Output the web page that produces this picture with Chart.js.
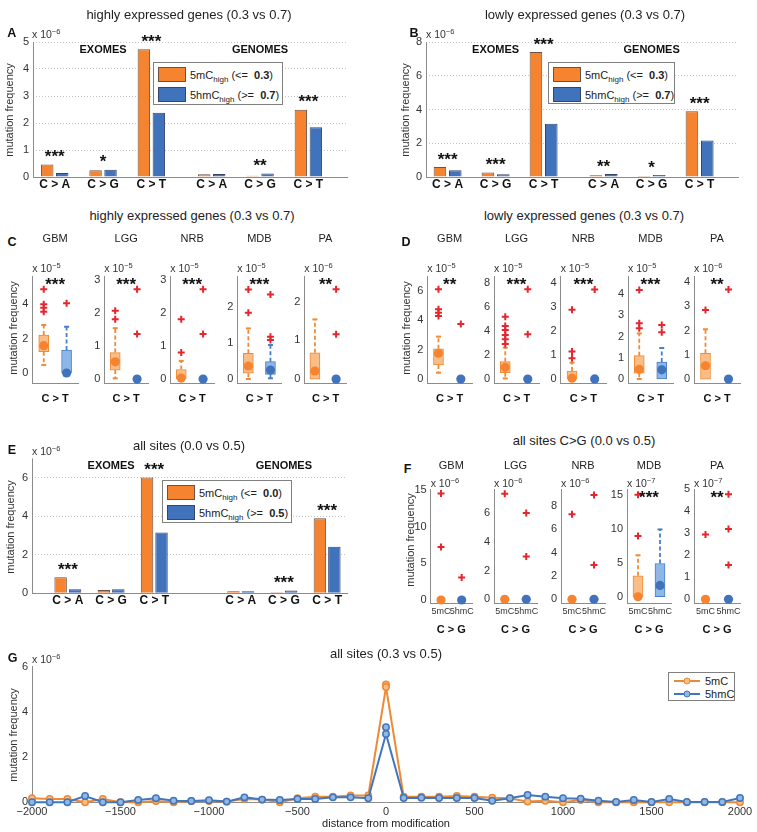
<!DOCTYPE html>
<html>
<head>
<meta charset="utf-8">
<title>mutation frequency: 5mC vs 5hmC</title>
<script src="https://cdn.jsdelivr.net/npm/chart.js@4.4.1/dist/chart.umd.min.js"></script>
<style>
  html, body { margin:0; padding:0; background:#fff; }
  #fig { position:relative; width:757px; height:832px; overflow:hidden; background:#fff;
         font-family:"Liberation Sans", Arial, Helvetica, sans-serif; color:#222; }
  #fig canvas { position:absolute; }
  .t, .tl, .yl { position:absolute; white-space:nowrap; line-height:1; }
  .t { transform:translate(-50%,-50%); }
  .tl { transform:translate(0,-50%); }
  .yl { transform:translate(-50%,-50%) rotate(-90deg); font-size:11px; color:#333; }
  .ttl { font-size:13px; color:#222; }
  .let { font-size:12.5px; font-weight:bold; color:#111; }
  .exp { font-size:10.5px; color:#333; }
  .exp sup { font-size:7.5px; vertical-align:4px; line-height:0; }
  .sub { font-size:11px; color:#222; }
  .xl { font-size:11px; font-weight:bold; color:#111; }
  .leg { position:absolute; background:#fff; border:1px solid #808080; box-sizing:border-box; }
  .sw { position:absolute; width:28px; height:15px; border:1px solid #555; box-sizing:border-box; }
  .lt { position:absolute; white-space:nowrap; line-height:1; transform:translate(0,-50%); font-size:11px; color:#222; }
  .lt sub { font-size:8px; vertical-align:-3px; line-height:0; }
  .gl { position:absolute; height:2px; width:26px; }
  .gm { position:absolute; width:7px; height:7px; border-radius:50%; box-sizing:border-box; border:1.5px solid; transform:translate(-50%,-50%); }
</style>
</head>
<body>
<div id="fig"></div>
<script>
// ======================= DATA =======================
// Panels A, B, E : grouped bars, mutation frequency (x 10^-6)
const barCategories = ['C > A', 'C > G', 'C > T', 'C > A', 'C > G', 'C > T'];
const cohortLabels = ['EXOMES', 'GENOMES'];

const A_5mC  = [0.46, 0.25, 4.73, 0.10, 0.05, 2.49];
const A_5hmC = [0.15, 0.27, 2.38, 0.11, 0.13, 1.84];
const A_stars = ['***', '*', '***', '', '**', '***'];
const A_yTicks = [0, 1, 2, 3, 4, 5];
const A_thresholds = ['0.3', '0.7'];

const B_5mC  = [0.59, 0.26, 7.41, 0.10, 0.06, 3.89];
const B_5hmC = [0.40, 0.16, 3.16, 0.18, 0.12, 2.17];
const B_stars = ['***', '***', '***', '**', '*', '***'];
const B_yTicks = [0, 2, 4, 6, 8];
const B_thresholds = ['0.3', '0.7'];

const E_5mC  = [0.83, 0.17, 6.01, 0.10, 0.05, 3.89];
const E_5hmC = [0.21, 0.21, 3.16, 0.10, 0.14, 2.42];
const E_stars = ['***', '', '***', '', '***', '***'];
const E_yTicks = [0, 2, 4, 6];
const E_thresholds = ['0.0', '0.5'];

// Panels C, D, F : box plots per tumour type
const tumours = ['GBM', 'LGG', 'NRB', 'MDB', 'PA'];
const groupTickLabels = ['5mC', '5hmC'];

// C : highly expressed genes, C>T
const C_exp   = [-5, -5, -5, -5, -6];
const C_yMin  = [-0.58, -0.12, -0.12, -0.11, -0.10];
const C_yMax  = [5.64, 3.12, 3.12, 2.85, 2.66];
const C_yTicks = [[0, 2, 4], [0, 1, 2, 3], [0, 1, 2, 3], [0, 1, 2], [0, 1, 2]];
const C_stars = ['***', '***', '***', '***', '**'];
const C_5mC_q1  = [1.24, 0.27, 0.00, 0.16, 0.00];
const C_5mC_q3  = [2.21, 0.80, 0.29, 0.71, 0.68];
const C_5mC_med = [1.59, 0.52, 0.03, 0.36, 0.21];
const C_5mC_lo  = [0.47, 0.02, 0.00, 0.00, 0.00];
const C_5mC_hi  = [2.79, 1.54, 0.55, 1.40, 1.54];
const C_5mC_out = [[4.87, 4.00, 3.80, 3.56], [2.07, 1.81], [1.81, 0.80], [2.48, 1.83], []];
const C_5hmC_q1  = [0.00, null, null, 0.13, null];
const C_5hmC_q3  = [1.34, null, null, 0.48, null];
const C_5hmC_med = [0.00, 0.00, 0.00, 0.25, 0.00];
const C_5hmC_lo  = [0.00, null, null, 0.02, null];
const C_5hmC_hi  = [2.69, null, null, 0.94, null];
const C_5hmC_out = [[4.05], [2.72, 1.36], [2.72, 1.36], [2.34, 1.17, 1.08], [2.32, 1.16]];

// D : lowly expressed genes, C>T
const D_exp   = [-5, -5, -5, -5, -6];
const D_yMin  = [-0.27, -0.33, -0.17, -0.19, -0.16];
const D_yMax  = [7.0, 8.61, 4.31, 4.86, 4.24];
const D_yTicks = [[0, 2, 4, 6], [0, 2, 4, 6, 8], [0, 1, 2, 3, 4], [0, 1, 2, 3, 4], [0, 1, 2, 3, 4]];
const D_stars = ['**', '***', '***', '***', '**'];
const D_5mC_q1  = [0.95, 0.53, 0.00, 0.27, 0.00];
const D_5mC_q3  = [2.05, 1.45, 0.33, 1.10, 1.06];
const D_5mC_med = [1.75, 0.98, 0.03, 0.46, 0.55];
const D_5mC_lo  = [0.43, 0.05, 0.00, 0.00, 0.00];
const D_5mC_hi  = [2.88, 2.62, 0.68, 2.15, 2.05];
const D_5mC_out = [[6.10, 4.74, 4.51, 4.29], [5.21, 4.43, 4.10, 3.68, 3.32, 2.93], [2.90, 1.15, 0.87], [4.20, 2.63, 2.39], [2.84]];
const D_5hmC_q1  = [null, null, null, 0.00, null];
const D_5hmC_q3  = [null, null, null, 0.80, null];
const D_5hmC_med = [0.00, 0.00, 0.00, 0.43, 0.00];
const D_5hmC_lo  = [null, null, null, 0.00, null];
const D_5hmC_hi  = [null, null, null, 1.46, null];
const D_5hmC_out = [[3.74], [7.50, 3.74], [3.75], [2.55, 2.20], [3.69]];

// F : all sites C>G
const F_exp   = [-6, -6, -6, -7, -7];
const F_yMin  = [-0.41, -0.26, -0.32, -0.92, -0.17];
const F_yMax  = [15.13, 7.64, 9.43, 15.8, 5.0];
const F_yTicks = [[0, 5, 10, 15], [0, 2, 4, 6], [0, 2, 4, 6, 8], [0, 5, 10, 15], [0, 1, 2, 3, 4, 5]];
const F_stars = ['', '', '', '***', '**'];
const F_5mC_q1  = [null, null, null, 0.00, null];
const F_5mC_q3  = [null, null, null, 3.07, null];
const F_5mC_med = [0.00, 0.00, 0.00, 0.00, 0.00];
const F_5mC_lo  = [null, null, null, 0.00, null];
const F_5mC_hi  = [null, null, null, 6.10, null];
const F_5mC_out = [[14.54, 7.25], [7.33], [7.29], [15.0, 8.93], [2.95]];
const F_5hmC_q1  = [null, null, null, 0.00, null];
const F_5hmC_q3  = [null, null, null, 4.89, null];
const F_5hmC_med = [0.00, 0.00, 0.00, 1.67, 0.00];
const F_5hmC_lo  = [null, null, null, 0.00, null];
const F_5hmC_hi  = [null, null, null, 9.90, null];
const F_5hmC_out = [[3.07], [6.00, 2.97], [8.94, 2.94], [], [4.77, 3.20, 1.56]];

// G : frequency vs distance from modification (x 10^-6)
const G_dist = [-2000, -1900, -1800, -1700, -1600, -1500, -1400, -1300, -1200, -1100,
                -1000, -900, -800, -700, -600, -500, -400, -300, -200, -100, 0,
                100, 200, 300, 400, 500, 600, 700, 800, 900, 1000,
                1100, 1200, 1300, 1400, 1500, 1600, 1700, 1800, 1900, 2000];
const G_5mC = [0.18, 0.15, 0.15, 0.00, 0.15, 0.00, 0.00, 0.06, 0.00, 0.06,
               0.06, 0.03, 0.15, 0.12, 0.00, 0.18, 0.25, 0.25, 0.30, 0.30, 5.10,
               0.25, 0.25, 0.25, 0.28, 0.25, 0.20, 0.18, 0.03, 0.07, 0.00,
               0.10, 0.00, 0.00, 0.00, 0.00, 0.00, 0.00, 0.00, 0.00, 0.00];
const G_5hmC = [0.00, 0.00, 0.00, 0.28, 0.00, 0.00, 0.10, 0.18, 0.07, 0.06,
                0.09, 0.03, 0.22, 0.12, 0.10, 0.15, 0.15, 0.22, 0.22, 0.18, 3.02,
                0.19, 0.20, 0.19, 0.19, 0.19, 0.07, 0.18, 0.32, 0.25, 0.18,
                0.16, 0.07, 0.01, 0.10, 0.01, 0.15, 0.01, 0.01, 0.01, 0.19];
const G_peakDist = [0];
const G_5mC_peak = [5.22];
const G_5hmC_peak = [3.32];
const G_xTicks = [-2000, -1500, -1000, -500, 0, 500, 1000, 1500, 2000];
const G_yTicks = [0, 2, 4, 6];
const G_series = ['5mC', '5hmC'];

const panelTitles = ['highly expressed genes (0.3 vs 0.7)', 'lowly expressed genes (0.3 vs 0.7)',
                     'all sites (0.0 vs 0.5)', 'all sites C>G (0.0 vs 0.5)', 'all sites (0.3 vs 0.5)'];
const yTitle = 'mutation frequency';
const gXTitle = 'distance from modification';

// ======================= STYLE =======================
const FONT = '"Liberation Sans", Arial, Helvetica, sans-serif';
const COL = {
  or: '#F5832F', orEdge: '#6b5244', bl: '#4173BD', blEdge: '#34476a',
  orLight: '#F9BD88', orLine: '#F08A34', blLight: '#8DB7E6', blLine: '#4A7EC4',
  red: '#E4262F', axis: '#8c8c8c', grid: '#c4c4c4',
  gOr: '#EE8A35', gOrFill: '#F8BC86', gBl: '#3F76BD', gBlFill: '#94B7E2'
};
Chart.defaults.font.family = FONT;
Chart.defaults.color = '#333';
Chart.defaults.animation = false;

const fig = document.getElementById('fig');
const esc = s => s.replace(/&/g, '&amp;').replace(/</g, '&lt;').replace(/>/g, '&gt;');

function txt(html, x, y, cls) {
  const d = document.createElement('div');
  d.className = cls;
  d.innerHTML = html;
  d.style.left = x + 'px';
  d.style.top = y + 'px';
  fig.appendChild(d);
  return d;
}
const tickSet = arr => s => { s.ticks = arr.map(v => ({ value: v })); };

function chartAt(rect, yW, xH, m, cfg) {
  const cl = Math.floor(rect.L - yW - m.l), ct = Math.floor(rect.T - m.t);
  const cr = Math.ceil(rect.R + m.r), cb = Math.ceil(rect.B + xH + m.b);
  const cv = document.createElement('canvas');
  cv.width = cr - cl; cv.height = cb - ct;
  cv.style.left = cl + 'px'; cv.style.top = ct + 'px';
  cv.style.width = (cr - cl) + 'px'; cv.style.height = (cb - ct) + 'px';
  fig.appendChild(cv);
  const o = cfg.options;
  o.responsive = false; o.maintainAspectRatio = false; o.animation = false;
  o.devicePixelRatio = 1; o.events = [];
  o.layout = { padding: { left: rect.L - yW - cl, top: rect.T - ct, right: cr - rect.R, bottom: cb - rect.B - xH } };
  o.plugins = { legend: { display: false }, tooltip: { enabled: false }, title: { display: false } };
  const zero = s => { s.paddingLeft = 0; s.paddingRight = 0; s.paddingTop = 0; s.paddingBottom = 0; };
  o.scales.x.afterFit = s => { s.height = xH; zero(s); };
  o.scales.y.afterFit = s => { s.width = yW; zero(s); };
  return new Chart(cv, cfg);
}

// solid left axis line (grid lines of the bar panels are dotted)
const solidYAxis = {
  id: 'solidYAxis',
  beforeDatasetsDraw(chart) {
    const { ctx, chartArea: a } = chart;
    const x = Math.round(a.left) + 0.5;
    ctx.save();
    ctx.strokeStyle = COL.axis;
    ctx.lineWidth = 1;
    ctx.setLineDash([]);
    ctx.beginPath();
    ctx.moveTo(x, a.top);
    ctx.lineTo(x, a.bottom);
    ctx.stroke();
    ctx.restore();
  }
};

// ---------- grouped bar panels (A, B, E) ----------
function barPanel(rect, mC, hmC, stars, yTicks, yMax, pos, xMin, xMax, cp, bp) {
  const annot = {
    id: 'annot',
    afterDatasetsDraw(chart) {
      const { ctx, chartArea } = chart;
      const x = chart.scales.x, y = chart.scales.y;
      ctx.save();
      ctx.fillStyle = '#111';
      ctx.textAlign = 'center';
      ctx.textBaseline = 'alphabetic';
      ctx.font = 'bold 17px ' + FONT;
      stars.forEach((s, i) => {
        if (!s) return;
        const top = y.getPixelForValue(Math.max(mC[i], hmC[i]));
        ctx.fillText(s, x.getPixelForValue(pos[i]), top - 12 + 9.7);
      });
      ctx.font = 'bold 11px ' + FONT;
      ctx.fillText(cohortLabels[0], x.getPixelForValue(pos[1]), chartArea.top + 11);
      ctx.fillText(cohortLabels[1], x.getPixelForValue(pos[4]), chartArea.top + 11);
      ctx.restore();
    }
  };
  return chartAt(rect, 30, 20, { l: 8, r: 8, t: 26, b: 6 }, {
    type: 'bar',
    data: { datasets: [
      { data: pos.map((x, i) => ({ x, y: mC[i] })), backgroundColor: COL.or, borderColor: COL.orEdge,
        borderWidth: 1, categoryPercentage: cp, barPercentage: bp },
      { data: pos.map((x, i) => ({ x, y: hmC[i] })), backgroundColor: COL.bl, borderColor: COL.blEdge,
        borderWidth: 1, categoryPercentage: cp, barPercentage: bp }
    ] },
    options: {
      scales: {
        x: { type: 'linear', min: xMin, max: xMax, bounds: 'data', offset: false, afterBuildTicks: tickSet(pos),
             grid: { display: false, drawTicks: false }, border: { display: true, color: COL.axis },
             ticks: { autoSkip: false, maxRotation: 0, minRotation: 0, padding: 0, color: '#111',
                      font: { size: 12, weight: 'bold' }, callback: (v, i) => barCategories[i] } },
        y: { type: 'linear', min: 0, max: yMax, bounds: 'data', afterBuildTicks: tickSet(yTicks),
             grid: { display: true, drawTicks: false, color: COL.grid, lineWidth: 1 },
             border: { display: false, color: COL.axis, dash: [1, 2] },
             ticks: { padding: 4, color: '#333', font: { size: 11 }, callback: v => String(v) } }
      }
    },
    plugins: [solidYAxis, annot]
  });
}

// ---------- box plot panels (C, D, F) ----------
function boxPanel(rect, yMin, yMax, yTicks, star, m, h, xLabels) {
  const S = [{ s: m, x: 1 }, { s: h, x: 2 }];
  const boxes = [], caps = [], meds = [], outs = [], whisk = [[], []];
  S.forEach((o, k) => {
    const s = o.s;
    if (s.q1 != null) {
      boxes.push({ x: o.x, y: [s.q1, s.q3] });
      if (s.hi > s.q3) { whisk[k].push({ x: o.x, y: s.q3 }, { x: o.x, y: s.hi }); caps.push({ x: o.x, y: s.hi }); }
      if (s.lo < s.q1) { whisk[k].push({ x: o.x, y: null }, { x: o.x, y: s.q1 }, { x: o.x, y: s.lo }); caps.push({ x: o.x, y: s.lo }); }
    }
    meds.push({ x: o.x, y: s.med });
    s.out.forEach(v => outs.push({ x: o.x, y: v }));
  });
  const pick = (a, b) => c => (c.raw && c.raw.x === 2) ? b : a;
  const starPlug = {
    id: 'stars',
    afterDatasetsDraw(chart) {
      if (!star) return;
      const { ctx, chartArea } = chart;
      ctx.save();
      ctx.fillStyle = '#111';
      ctx.textAlign = 'center';
      ctx.textBaseline = 'alphabetic';
      ctx.font = 'bold 17px ' + FONT;
      ctx.fillText(star, (chartArea.left + chartArea.right) / 2, chartArea.top + 4 + 9.7);
      ctx.restore();
    }
  };
  const xH = xLabels ? 14 : 0;
  return chartAt(rect, 28, xH, { l: 6, r: 6, t: 8, b: 6 }, {
    type: 'bar',
    data: { datasets: [
      { type: 'line', order: 0, data: outs, showLine: false, pointStyle: 'cross', pointRadius: 3.5,
        pointBorderWidth: 2, pointBorderColor: COL.red, pointBackgroundColor: COL.red, clip: false },
      { type: 'line', order: 1, data: meds, showLine: false, pointStyle: 'circle', pointRadius: 4.6,
        pointBorderWidth: 0, pointBackgroundColor: pick(COL.or, COL.bl), pointBorderColor: pick(COL.or, COL.bl), clip: false },
      { type: 'line', order: 2, data: caps, showLine: false, pointStyle: 'line', pointRadius: 2.5,
        pointBorderWidth: 2, pointBorderColor: pick(COL.orLine, COL.blLine), clip: false },
      { type: 'line', order: 3, data: whisk[0], borderColor: COL.orLine, borderWidth: 1.8,
        borderDash: [4, 2.5], pointRadius: 0, spanGaps: false, clip: false },
      { type: 'line', order: 3, data: whisk[1], borderColor: COL.blLine, borderWidth: 1.8,
        borderDash: [4, 2.5], pointRadius: 0, spanGaps: false, clip: false },
      { type: 'bar', order: 4, data: boxes, barThickness: 10, borderWidth: 1, borderSkipped: false,
        backgroundColor: pick(COL.orLight, COL.blLight), borderColor: pick(COL.orLine, COL.blLine) }
    ] },
    options: {
      scales: {
        x: { type: 'linear', min: 0.5, max: 2.5, bounds: 'data', offset: false, afterBuildTicks: tickSet([1, 2]),
             grid: { display: false, drawTicks: false }, border: { display: true, color: COL.axis },
             ticks: { display: !!xLabels, autoSkip: false, maxRotation: 0, minRotation: 0, padding: 3,
                      color: '#333', font: { size: 9 }, callback: (v, i) => xLabels ? xLabels[i] : '' } },
        y: { type: 'linear', min: yMin, max: yMax, bounds: 'data', afterBuildTicks: tickSet(yTicks),
             grid: { display: false, drawTicks: false }, border: { display: true, color: COL.axis },
             ticks: { padding: 4, color: '#333', font: { size: 11 }, callback: v => String(v) } }
      }
    },
    plugins: [starPlug]
  });
}

// ======================= BUILD =======================
const posAB = [1, 2, 3, 4.25, 5.25, 6.25];
const posE = [1, 2, 3, 5, 6, 7];
barPanel({ L: 33, R: 347, T: 42, B: 177 }, A_5mC, A_5hmC, A_stars, A_yTicks, 5, posAB, 0.55, 7.05, 0.62, 0.83);
barPanel({ L: 426, R: 738, T: 42, B: 177 }, B_5mC, B_5hmC, B_stars, B_yTicks, 8, posAB, 0.55, 7.05, 0.64, 0.82);
barPanel({ L: 32, R: 347, T: 458.4, B: 593.3 }, E_5mC, E_5hmC, E_stars, E_yTicks, 7, posE, 0.17, 7.46, 0.67, 0.86);

const boxPanels = [
  { key: 'C', T: 276, B: 383, xs: [[32.3, 78], [104.3, 148], [170.3, 214], [237.3, 281.5], [304.3, 346.7]],
    exp: C_exp, yMin: C_yMin, yMax: C_yMax, yTicks: C_yTicks, stars: C_stars,
    m: [C_5mC_q1, C_5mC_q3, C_5mC_med, C_5mC_lo, C_5mC_hi, C_5mC_out],
    h: [C_5hmC_q1, C_5hmC_q3, C_5hmC_med, C_5hmC_lo, C_5hmC_hi, C_5hmC_out],
    subY: 238, expY: 268, mutLabel: 'C > T', mutY: 398, xLabels: null },
  { key: 'D', T: 276, B: 383, xs: [[427.3, 472], [494, 539], [560.7, 606], [628, 673], [694, 740]],
    exp: D_exp, yMin: D_yMin, yMax: D_yMax, yTicks: D_yTicks, stars: D_stars,
    m: [D_5mC_q1, D_5mC_q3, D_5mC_med, D_5mC_lo, D_5mC_hi, D_5mC_out],
    h: [D_5hmC_q1, D_5hmC_q3, D_5hmC_med, D_5hmC_lo, D_5hmC_hi, D_5hmC_out],
    subY: 238, expY: 268, mutLabel: 'C > T', mutY: 398, xLabels: null },
  { key: 'F', T: 489.3, B: 603, xs: [[430.7, 472], [494, 537], [561, 605], [627, 671], [694, 740]],
    exp: F_exp, yMin: F_yMin, yMax: F_yMax, yTicks: F_yTicks, stars: F_stars,
    m: [F_5mC_q1, F_5mC_q3, F_5mC_med, F_5mC_lo, F_5mC_hi, F_5mC_out],
    h: [F_5hmC_q1, F_5hmC_q3, F_5hmC_med, F_5hmC_lo, F_5hmC_hi, F_5hmC_out],
    subY: 465, expY: 482.5, mutLabel: 'C > G', mutY: 629, xLabels: groupTickLabels }
];
const unpack = (arrs, i) => ({ q1: arrs[0][i], q3: arrs[1][i], med: arrs[2][i], lo: arrs[3][i], hi: arrs[4][i], out: arrs[5][i] });
boxPanels.forEach(P => {
  tumours.forEach((name, i) => {
    const [L, R] = P.xs[i];
    boxPanel({ L, R, T: P.T, B: P.B }, P.yMin[i], P.yMax[i], P.yTicks[i], P.stars[i],
             unpack(P.m, i), unpack(P.h, i), P.xLabels);
  });
});

// Panel G
const gPts = (xs, ys) => xs.map((x, i) => ({ x, y: ys[i] }));
const gStyle = (c, f) => ({ borderColor: c, borderWidth: 2, pointRadius: 3.2, pointBorderWidth: 1.5,
                            pointBackgroundColor: f, pointBorderColor: c, tension: 0, clip: false });
chartAt({ L: 32, R: 740, T: 666.7, B: 802.3 }, 30, 18, { l: 10, r: 14, t: 8, b: 6 }, {
  type: 'line',
  data: { datasets: [
    Object.assign({ order: 0, data: gPts(G_dist, G_5hmC) }, gStyle(COL.gBl, COL.gBlFill)),
    Object.assign({ order: 0, data: gPts(G_peakDist, G_5hmC_peak), showLine: false }, gStyle(COL.gBl, COL.gBlFill)),
    Object.assign({ order: 1, data: gPts(G_dist, G_5mC) }, gStyle(COL.gOr, COL.gOrFill)),
    Object.assign({ order: 1, data: gPts(G_peakDist, G_5mC_peak), showLine: false }, gStyle(COL.gOr, COL.gOrFill))
  ] },
  options: {
    scales: {
      x: { type: 'linear', min: -2000, max: 2000, bounds: 'data', afterBuildTicks: tickSet(G_xTicks),
           grid: { display: false, drawTicks: false }, border: { display: true, color: COL.axis },
           ticks: { autoSkip: false, maxRotation: 0, minRotation: 0, padding: 3, color: '#333', font: { size: 11 },
                    callback: v => (v < 0 ? '\u2212' : '') + Math.abs(v) } },
      y: { type: 'linear', min: 0, max: 6, bounds: 'data', afterBuildTicks: tickSet(G_yTicks),
           grid: { display: false, drawTicks: false }, border: { display: true, color: COL.axis },
           ticks: { padding: 4, color: '#333', font: { size: 11 }, callback: v => String(v) } }
    }
  }
});

// ======================= TEXT =======================
[[0, 189, 13.5], [1, 585, 13.5], [0, 192, 215], [1, 584, 215], [2, 189, 445], [3, 584, 440], [4, 386, 653]]
  .forEach(([k, x, y]) => txt(esc(panelTitles[k]), x, y, 't ttl'));
[['A', 11.7, 33], ['B', 414, 33], ['C', 12, 242], ['D', 406, 242], ['E', 12, 449.5], ['F', 407.5, 469], ['G', 12.5, 658]]
  .forEach(([s, x, y]) => txt(s, x, y, 't let'));
[[9, 110], [405, 110], [13, 328], [406, 328], [10, 527], [410, 540], [13, 735]]
  .forEach(([x, y]) => txt(yTitle, x, y, 'yl'));
const expHtml = e => 'x 10<sup>\u2212' + Math.abs(e) + '</sup>';
[[32, 34], [426, 34], [32, 450.7], [32, 659]].forEach(([x, y]) => txt(expHtml(-6), x, y, 'tl exp'));
boxPanels.forEach(P => {
  tumours.forEach((name, i) => {
    const [L, R] = P.xs[i];
    const cx = (L + R) / 2;
    txt(name, cx, P.subY, 't sub');
    txt(expHtml(P.exp[i]), L, P.expY, 'tl exp');
    txt(esc(P.mutLabel), cx, P.mutY, 't xl');
  });
});
txt(gXTitle, 386, 823, 't sub');

// legends
function barLegend(x, y, w, h, thr) {
  const b = document.createElement('div');
  b.className = 'leg';
  b.style.left = x + 'px'; b.style.top = y + 'px'; b.style.width = w + 'px'; b.style.height = h + 'px';
  b.innerHTML =
    '<div class="sw" style="left:4px;top:4px;background:' + COL.or + ';border-color:' + COL.orEdge + '"></div>' +
    '<div class="sw" style="left:4px;top:24px;background:' + COL.bl + ';border-color:' + COL.blEdge + '"></div>' +
    '<div class="lt" style="left:36px;top:12px">5mC<sub>high</sub> (&lt;=&nbsp; <b>' + thr[0] + '</b>)</div>' +
    '<div class="lt" style="left:36px;top:32px">5hmC<sub>high</sub> (&gt;=&nbsp; <b>' + thr[1] + '</b>)</div>';
  fig.appendChild(b);
}
barLegend(153, 62, 130, 43, A_thresholds);
barLegend(548, 62, 127, 42, B_thresholds);
barLegend(162, 480, 130, 43, E_thresholds);

(function gLegend() {
  const b = document.createElement('div');
  b.className = 'leg';
  b.style.left = '668px'; b.style.top = '672px'; b.style.width = '67px'; b.style.height = '29px';
  const cols = [[COL.gOr, COL.gOrFill], [COL.gBl, COL.gBlFill]];
  let html = '';
  G_series.forEach((s, i) => {
    const cy = 8 + i * 12.5;
    html += '<div class="gl" style="left:5px;top:' + (cy - 1) + 'px;background:' + cols[i][0] + '"></div>' +
            '<div class="gm" style="left:18px;top:' + cy + 'px;background:' + cols[i][1] + ';border-color:' + cols[i][0] + '"></div>' +
            '<div class="lt" style="left:36px;top:' + cy + 'px">' + s + '</div>';
  });
  b.innerHTML = html;
  fig.appendChild(b);
})();
</script>
</body>
</html>
